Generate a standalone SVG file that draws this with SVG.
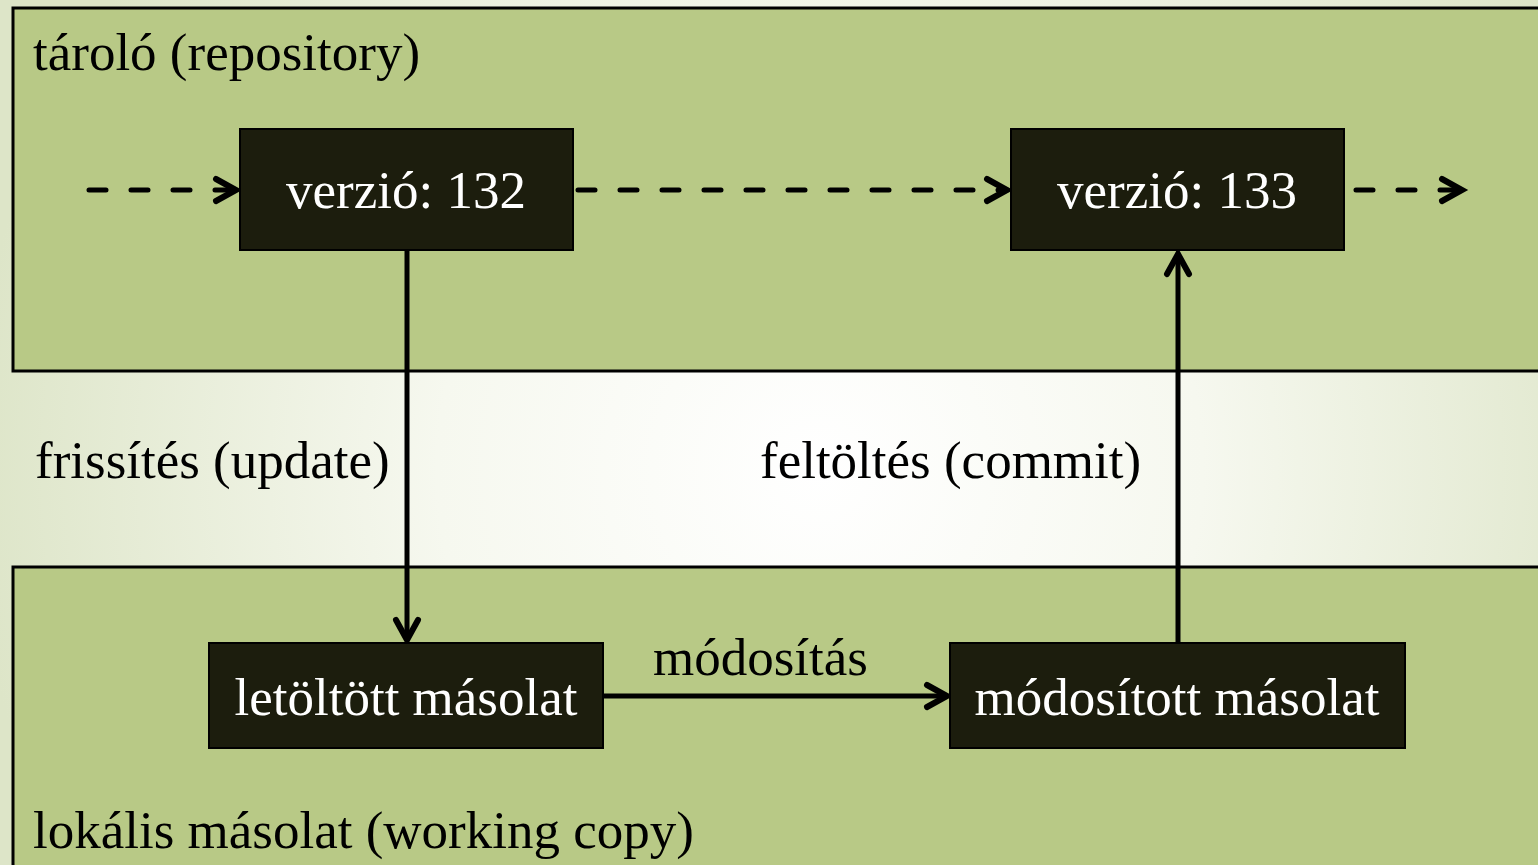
<svg xmlns="http://www.w3.org/2000/svg" width="1538" height="865" viewBox="0 0 1538 865">
<defs>
<radialGradient id="bg" cx="820" cy="470" r="850" gradientUnits="userSpaceOnUse">
<stop offset="0" stop-color="#ffffff"/>
<stop offset="0.45" stop-color="#f6f8ef"/>
<stop offset="1" stop-color="#dde5c8"/>
</radialGradient>
<marker id="ah" viewBox="-30 -20 40 40" refX="0" refY="0" markerWidth="40" markerHeight="40" markerUnits="userSpaceOnUse" orient="auto" overflow="visible">
<path d="M-20,-11 L0,0 L-20,11" fill="none" stroke="#000" stroke-width="6" stroke-linecap="round" stroke-linejoin="miter"/>
</marker>
</defs>
<style>
.panel{fill:#b8c986;stroke:#000;stroke-width:3}
.box{fill:#1c1d0d;stroke:#000;stroke-width:2}
.lbl{font-family:"Liberation Serif","Times New Roman",serif;font-size:53px;fill:#000}
.btxt{font-family:"Liberation Serif","Times New Roman",serif;font-size:53px;fill:#fff;text-anchor:middle}
.dash{fill:none;stroke:#000;stroke-width:5;stroke-linecap:round;stroke-dasharray:17 25}
.solid{fill:none;stroke:#000;stroke-width:5}
</style>
<rect width="1538" height="865" fill="url(#bg)"/>
<g id="repository">
<rect class="panel" x="13" y="8" width="1540" height="363"/>
<text class="lbl" x="33" y="70">tároló (repository)</text>
</g>
<g id="working-copy">
<rect class="panel" x="13" y="567" width="1540" height="310"/>
<text class="lbl" x="33" y="848">lokális másolat (working copy)</text>
</g>
<g id="connectors">
<path class="dash" d="M89,190 H236" marker-end="url(#ah)"/>
<path class="dash" d="M578,190 H1007" marker-end="url(#ah)"/>
<path class="dash" d="M1356,190 H1462" marker-end="url(#ah)"/>
<path class="solid" d="M407,250 V640" marker-end="url(#ah)"/>
<path class="solid" d="M1178,643 V254" marker-end="url(#ah)"/>
<path class="solid" d="M603,696 H947" marker-end="url(#ah)"/>
<text class="lbl" x="35" y="478">frissítés (update)</text>
<text class="lbl" x="760" y="478">feltöltés (commit)</text>
<text class="lbl" x="653" y="675">módosítás</text>
</g>
<g id="v132">
<rect class="box" x="240" y="129" width="333" height="121"/>
<text class="btxt" x="406" y="208">verzió: 132</text>
</g>
<g id="v133">
<rect class="box" x="1011" y="129" width="333" height="121"/>
<text class="btxt" x="1177" y="208">verzió: 133</text>
</g>
<g id="downloaded">
<rect class="box" x="209" y="643" width="394" height="105"/>
<text class="btxt" x="406" y="715">letöltött másolat</text>
</g>
<g id="modified">
<rect class="box" x="950" y="643" width="455" height="105"/>
<text class="btxt" x="1177" y="715">módosított másolat</text>
</g>
</svg>
